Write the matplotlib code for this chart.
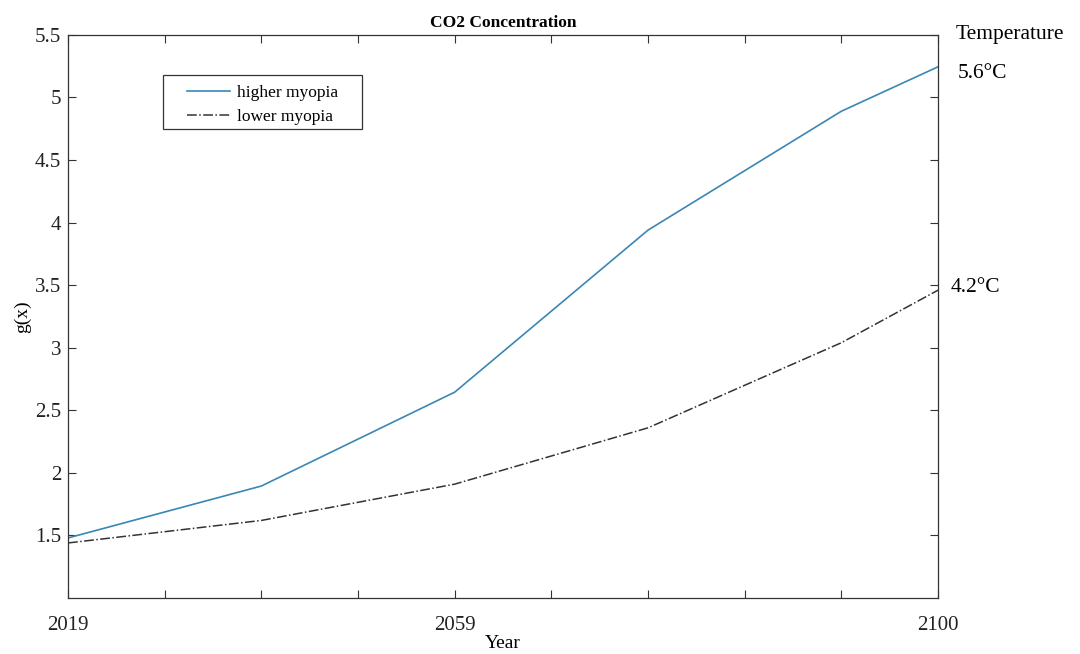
import matplotlib
matplotlib.use("Agg")
import matplotlib.pyplot as plt
from matplotlib.patches import Rectangle

plt.rcParams['font.family'] = ['Liberation Serif', 'DejaVu Serif']

x_idx = [0, 2, 4, 6, 8, 9]
higher = [1.48, 1.895, 2.645, 3.94, 4.89, 5.245]
lower = [1.44, 1.62, 1.91, 2.36, 3.04, 3.46]
xtick_pos = list(range(10))
xtick_labels = ['2019', '', '', '', '2059', '', '', '', '', '2100']
yticks = [1.5, 2, 2.5, 3, 3.5, 4, 4.5, 5, 5.5]
ytick_labels = ['1.5', '2', '2.5', '3', '3.5', '4', '4.5', '5', '5.5']
temp_labels = ['5.6°C', '4.2°C']

fig = plt.figure(figsize=(10.8, 6.54), dpi=100)
ax = fig.add_axes([0.063, 0.0856, 0.8055, 0.861])

ax.plot(x_idx, higher, color='#3a87b4', lw=1.2, label='higher myopia')
ax.plot(x_idx, lower, color='#333333', lw=1.1, ls='-.', label='lower myopia')

ax.set_xlim(0, 9)
ax.set_ylim(1, 5.5)
ax.set_xticks(xtick_pos)
ax.set_xticklabels(xtick_labels)
ax.set_yticks(yticks)
ax.set_yticklabels(ytick_labels)
ax.tick_params(direction='in', top=True, right=True, length=6, width=0.8,
               labelsize=15, colors='#333333', labelcolor='#222222')
ax.tick_params(axis='x', pad=13)
ax.tick_params(axis='y', pad=5)
for s in ax.spines.values():
    s.set_color('#333333')
    s.set_linewidth(0.9)

ax.set_title('CO2 Concentration', fontsize=12.5, fontweight='bold', pad=6)
ax.set_ylabel('g(x)', fontsize=14, labelpad=3)
ax.set_xlabel('Year', fontsize=14, labelpad=0)

# legend frame
ax.add_patch(Rectangle((0.1092, 0.833), 0.2288, 0.096, transform=ax.transAxes,
                       fill=True, facecolor='white', edgecolor='#333333',
                       lw=0.9, zorder=4))
leg = ax.legend(loc='upper left', bbox_to_anchor=(0.1368, 0.911), fontsize=12.5,
                frameon=False, handlelength=2.5, borderpad=0, borderaxespad=0,
                labelspacing=0.45, handletextpad=0.35)
leg.set_zorder(5)

ax.text(1.02, 1.0, 'Temperature', transform=ax.transAxes, fontsize=15.5,
        ha='left', va='center')
ax.text(1.023, higher[-1] - 0.05, temp_labels[0], transform=ax.get_yaxis_transform(),
        fontsize=15.5, ha='left', va='center')
ax.text(1.014, lower[-1] + 0.02, temp_labels[1], transform=ax.get_yaxis_transform(),
        fontsize=15.5, ha='left', va='center')

fig.savefig('out.png', dpi=100)
